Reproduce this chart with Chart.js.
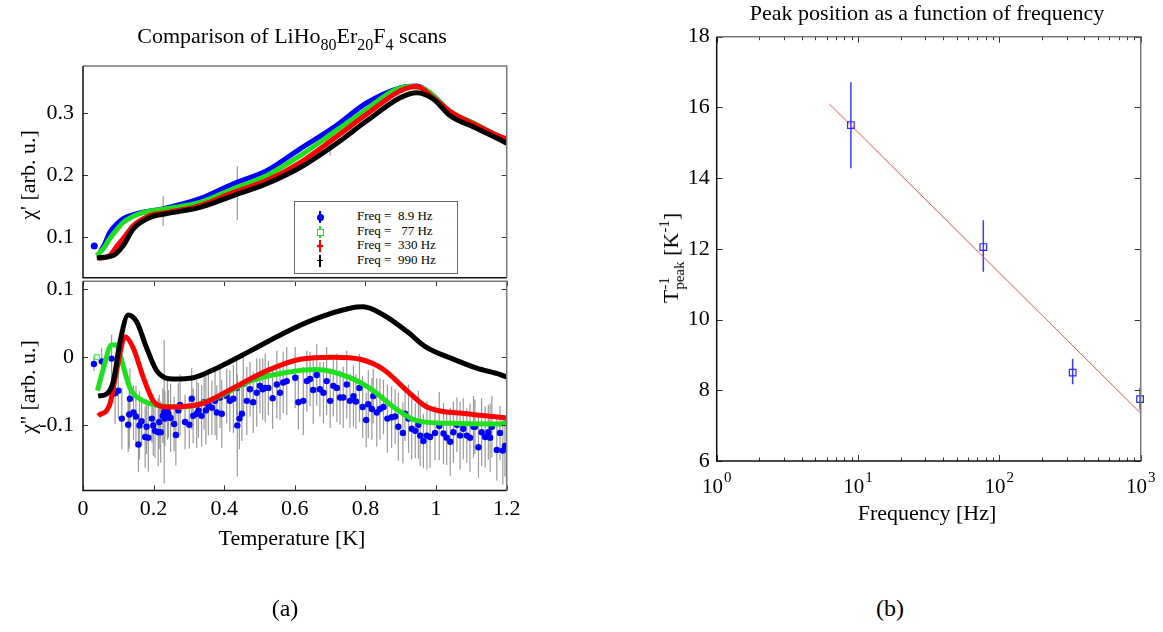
<!DOCTYPE html>
<html lang="en">
<head>
<meta charset="UTF-8" />
<title>LiHo80Er20F4 ac susceptibility</title>
<script src="https://cdn.jsdelivr.net/npm/chart.js@4.4.1/dist/chart.umd.min.js"></script>
<style>
  html, body { margin: 0; padding: 0; background: #fff; }
  body { width: 1163px; height: 632px; position: relative; overflow: hidden;
         font-family: "Liberation Serif", serif; color: #000; }
  canvas { position: absolute; }
  .t { position: absolute; white-space: nowrap; font-size: 22px; line-height: 22px; z-index: 2; }
  .t sub { font-size: 16px; vertical-align: -7px; line-height: 0; }
  .t sup { font-size: 15px; vertical-align: 9px; line-height: 0; }
  .rot { transform: translate(-50%, -50%) rotate(-90deg); }
  .stk { display: inline-block; font-size: 15px; line-height: 15px; vertical-align: -6px; }
  .stk span { display: block; }
  #legend { position: absolute; left: 294px; top: 201px; width: 162px; height: 71px;
            border: 1.5px solid #666; background: #fff; z-index: 2; }
  #legend .row { position: absolute; left: 62px; font-size: 13px; line-height: 14px; white-space: pre; }
  #legend .mk { position: absolute; left: 25px; width: 0; height: 0; }
  #legend .bar { position: absolute; left: -0.6px; top: -6px; width: 1.2px; height: 12px; }
  #legend .dot { position: absolute; left: -3.5px; top: -3.5px; width: 7px; height: 7px; border-radius: 50%; }
  #legend .sq { position: absolute; left: -3px; top: -3px; width: 5px; height: 5px; border: 1px solid #1ee01e; background: #fff; }
  #legend .hz { position: absolute; left: -3px; top: -0.6px; width: 6px; height: 1.2px; }
</style>
</head>
<body>
  <canvas id="chiP" width="560" height="260" style="left:0px; top:40px;"></canvas>
  <canvas id="chiPP" width="560" height="311" style="left:0px; top:259.3px;"></canvas>
  <canvas id="peak" width="523" height="560" style="left:640px; top:0px;"></canvas>

  <div class="t" style="left:292px; top:25px; transform:translateX(-50%);">Comparison of LiHo<sub>80</sub>Er<sub>20</sub>F<sub>4</sub> scans</div>
  <div class="t rot" style="left:28px; top:175px;">χ' [arb. u.]</div>
  <div class="t rot" style="left:28px; top:387px;">χ'' [arb. u.]</div>
  <div class="t" style="left:292px; top:527px; transform:translateX(-50%);">Temperature [K]</div>

  <div class="t" style="left:927px; top:2px; transform:translateX(-50%);">Peak position as a function of frequency</div>
  <div class="t rot" style="left:672px; top:258px;">T<span class="stk"><span>-1</span><span>peak</span></span> [K<sup>-1</sup>]</div>
  <div class="t" style="left:927px; top:502px; transform:translateX(-50%);">Frequency [Hz]</div>

  <div class="t" style="left:285px; top:608px; font-size:24px; transform:translate(-50%,-50%);">(a)</div>
  <div class="t" style="left:890px; top:608px; font-size:24px; transform:translate(-50%,-50%);">(b)</div>

  <div id="legend">
    <div class="mk" style="top:15px;"><div class="bar" style="background:#0000ff"></div><div class="dot" style="background:#0000ff"></div></div>
    <div class="row" style="top:7px;">Freq =  8.9 Hz</div>
    <div class="mk" style="top:29.5px;"><div class="bar" style="background:#1ee01e"></div><div class="sq"></div></div>
    <div class="row" style="top:21.5px;">Freq =   77 Hz</div>
    <div class="mk" style="top:44px;"><div class="bar" style="background:#ff0000"></div><div class="hz" style="background:#ff0000"></div><div class="dot" style="background:#ff0000; width:4px; height:4px; left:-2px; top:-2px;"></div></div>
    <div class="row" style="top:36px;">Freq =  330 Hz</div>
    <div class="mk" style="top:58.5px;"><div class="bar" style="background:#000"></div><div class="hz" style="background:#000"></div></div>
    <div class="row" style="top:50.5px;">Freq =  990 Hz</div>
  </div>

<script>
  // ---- chi' (top panel), temperature [K] vs arb. units ----
  const blueTopT  = [0.048, 0.062, 0.076, 0.095, 0.114, 0.152, 0.228, 0.331, 0.426, 0.52, 0.615, 0.709, 0.804, 0.898, 0.945, 0.992, 1.04, 1.106, 1.18, 1.2];
  const blueTopV  = [0.076, 0.090, 0.108, 0.121, 0.130, 0.138, 0.146, 0.162, 0.186, 0.207, 0.242, 0.276, 0.316, 0.340, 0.343, 0.327, 0.301, 0.283, 0.261, 0.256];
  const greenTopT = [0.039, 0.058, 0.076, 0.095, 0.114, 0.161, 0.237, 0.331, 0.426, 0.52, 0.615, 0.709, 0.804, 0.878, 0.925, 0.97, 1.04, 1.106, 1.18, 1.2];
  const greenTopV = [0.071, 0.082, 0.098, 0.112, 0.124, 0.138, 0.146, 0.156, 0.178, 0.199, 0.231, 0.268, 0.306, 0.335, 0.342, 0.337, 0.302, 0.283, 0.261, 0.256];
  const redTopT   = [0.043, 0.076, 0.095, 0.114, 0.143, 0.19, 0.237, 0.331, 0.426, 0.52, 0.615, 0.709, 0.804, 0.898, 0.945, 0.992, 1.04, 1.106, 1.18, 1.2];
  const redTopV   = [0.066, 0.071, 0.085, 0.098, 0.119, 0.135, 0.140, 0.151, 0.172, 0.191, 0.220, 0.258, 0.298, 0.335, 0.342, 0.324, 0.302, 0.282, 0.262, 0.258];
  const blackTopT = [0.039, 0.086, 0.114, 0.143, 0.19, 0.237, 0.331, 0.426, 0.52, 0.615, 0.709, 0.804, 0.898, 0.945, 0.992, 1.04, 1.106, 1.18, 1.2];
  const blackTopV = [0.067, 0.071, 0.087, 0.114, 0.132, 0.138, 0.148, 0.167, 0.186, 0.212, 0.247, 0.287, 0.324, 0.332, 0.322, 0.295, 0.277, 0.257, 0.251];
  const blueTopFirstT = [0.032];
  const blueTopFirstV = [0.086];
  // a few visible error bars of the 8.9 Hz scan
  const blueTopErrT  = [0.227, 0.437, 0.700];
  const blueTopErrLo = [0.118, 0.128, 0.231];
  const blueTopErrHi = [0.166, 0.214, 0.258];

  // ---- chi'' (bottom panel) ----
  const blackBotT = [0.043, 0.067, 0.086, 0.105, 0.128, 0.152, 0.18, 0.209, 0.256, 0.313, 0.379, 0.473, 0.567, 0.662, 0.756, 0.794, 0.851, 0.917, 0.974, 1.04, 1.115, 1.18, 1.2];
  const blackBotV = [-0.057, -0.054, -0.035, 0.023, 0.062, 0.052, 0.014, -0.020, -0.032, -0.030, -0.016, 0.009, 0.035, 0.057, 0.072, 0.074, 0.062, 0.038, 0.014, -0.001, -0.016, -0.025, -0.029];
  const redBotT   = [0.043, 0.076, 0.095, 0.119, 0.142, 0.171, 0.199, 0.237, 0.331, 0.426, 0.52, 0.615, 0.709, 0.785, 0.851, 0.917, 0.974, 1.087, 1.18, 1.2];
  const redBotV   = [-0.086, -0.069, -0.020, 0.030, 0.014, -0.030, -0.064, -0.073, -0.069, -0.045, -0.020, -0.003, 0.000, -0.003, -0.018, -0.049, -0.073, -0.083, -0.088, -0.089];
  const greenBotT = [0.041, 0.058, 0.081, 0.095, 0.11, 0.133, 0.171, 0.218, 0.284, 0.379, 0.473, 0.567, 0.662, 0.756, 0.822, 0.879, 0.945, 1.04, 1.18, 1.2];
  const greenBotV = [-0.049, -0.016, 0.018, 0.018, -0.006, -0.045, -0.064, -0.071, -0.073, -0.059, -0.035, -0.023, -0.018, -0.030, -0.049, -0.073, -0.093, -0.097, -0.098, -0.096];
  const greenBotFirstT = [0.039];
  const greenBotFirstV = [0.0];

  const blueBotT = [
    0.031, 0.053, 0.081, 0.091, 0.100, 0.110, 0.128, 0.131, 0.133, 0.143,
    0.150, 0.157, 0.160, 0.166, 0.176, 0.180, 0.185, 0.195, 0.199, 0.204,
    0.213, 0.216, 0.220, 0.226, 0.230, 0.232, 0.239, 0.242, 0.248, 0.258,
    0.263, 0.270, 0.275, 0.289, 0.301, 0.308, 0.312, 0.322, 0.327, 0.336,
    0.343, 0.348, 0.355, 0.365, 0.374, 0.379, 0.388, 0.393, 0.407, 0.416,
    0.426, 0.435, 0.437, 0.443, 0.450, 0.454, 0.464, 0.473, 0.482, 0.492,
    0.501, 0.509, 0.516, 0.525, 0.537, 0.549, 0.558, 0.567, 0.577, 0.601,
    0.610, 0.624, 0.634, 0.643, 0.652, 0.662, 0.671, 0.681, 0.690, 0.700,
    0.709, 0.719, 0.728, 0.737, 0.747, 0.756, 0.766, 0.773, 0.783, 0.792,
    0.802, 0.808, 0.818, 0.822, 0.832, 0.841, 0.851, 0.862, 0.874, 0.884,
    0.893, 0.906, 0.912, 0.922, 0.931, 0.941, 0.950, 0.955, 0.964, 0.974,
    0.983, 0.997, 1.009, 1.021, 1.030, 1.040, 1.049, 1.059, 1.068, 1.077,
    1.087, 1.096, 1.106, 1.110, 1.120, 1.129, 1.139, 1.148, 1.153, 1.158,
    1.172, 1.181, 1.189, 1.195
  ];
  const blueBotV = [
    -0.010, -0.006, -0.002, -0.053, -0.049, -0.090, -0.099, -0.084, -0.061, -0.081,
    -0.087, -0.128, -0.100, -0.094, -0.117, -0.102, -0.118, -0.090, -0.100, -0.108,
    -0.110, -0.095, -0.110, -0.086, -0.080, -0.090, -0.076, -0.083, -0.089, -0.098,
    -0.114, -0.078, -0.070, -0.095, -0.099, -0.061, -0.086, -0.083, -0.078, -0.086,
    -0.066, -0.078, -0.070, -0.074, -0.064, -0.081, -0.059, -0.083, -0.057, -0.064,
    -0.061, -0.045, -0.100, -0.090, -0.083, -0.039, -0.064, -0.047, -0.066, -0.052,
    -0.042, -0.047, -0.045, -0.045, -0.060, -0.040, -0.052, -0.037, -0.035, -0.030,
    -0.066, -0.064, -0.035, -0.032, -0.048, -0.026, -0.047, -0.052, -0.035, -0.064,
    -0.042, -0.045, -0.059, -0.059, -0.040, -0.064, -0.057, -0.065, -0.045, -0.073,
    -0.092, -0.069, -0.076, -0.057, -0.081, -0.076, -0.073, -0.090, -0.088, -0.087,
    -0.102, -0.111, -0.083, -0.090, -0.105, -0.108, -0.099, -0.115, -0.123, -0.115,
    -0.117, -0.111, -0.101, -0.112, -0.118, -0.124, -0.110, -0.099, -0.115, -0.105,
    -0.115, -0.118, -0.102, -0.102, -0.132, -0.110, -0.117, -0.110, -0.118, -0.102,
    -0.136, -0.111, -0.137, -0.130
  ];
  const blueBotErr = [
    0.010, 0.020, 0.035, 0.045, 0.040, 0.045, 0.040, 0.050, 0.045, 0.040,
    0.045, 0.040, 0.050, 0.035, 0.045, 0.040, 0.050, 0.035, 0.045, 0.040,
    0.050, 0.040, 0.045, 0.040, 0.105, 0.040, 0.045, 0.035, 0.050, 0.040,
    0.045, 0.040, 0.045, 0.040, 0.035, 0.045, 0.040, 0.050, 0.040, 0.045,
    0.040, 0.050, 0.045, 0.040, 0.050, 0.040, 0.045, 0.050, 0.040, 0.045,
    0.050, 0.040, 0.075, 0.045, 0.040, 0.045, 0.050, 0.040, 0.045, 0.050,
    0.040, 0.045, 0.050, 0.040, 0.045, 0.050, 0.040, 0.045, 0.050, 0.045,
    0.040, 0.050, 0.045, 0.040, 0.050, 0.045, 0.040, 0.045, 0.050, 0.040,
    0.045, 0.050, 0.040, 0.045, 0.050, 0.040, 0.045, 0.040, 0.050, 0.045,
    0.040, 0.050, 0.045, 0.040, 0.050, 0.045, 0.040, 0.050, 0.045, 0.040,
    0.050, 0.045, 0.040, 0.050, 0.045, 0.040, 0.050, 0.045, 0.040, 0.050,
    0.045, 0.040, 0.050, 0.045, 0.040, 0.050, 0.045, 0.040, 0.050, 0.045,
    0.040, 0.050, 0.045, 0.040, 0.045, 0.050, 0.045, 0.040, 0.050, 0.045,
    0.045, 0.040, 0.050, 0.045
  ];

  const tempTicks = [0, 0.2, 0.4, 0.6, 0.8, 1, 1.2];
  const tempTickLabels = ['0', '0.2', '0.4', '0.6', '0.8', '1', '1.2'];
  const chiPTicks = [0.1, 0.2, 0.3];
  const chiPTickLabels = ['0.1', '0.2', '0.3'];
  const chiPPTicks = [-0.1, 0, 0.1];
  const chiPPTickLabels = ['-0.1', '0', '0.1'];

  // ---- peak position vs frequency ----
  const freqs = [8.9, 77, 330, 990];
  const tPeakInv = [15.5, 12.05, 8.5, 7.75];
  const tPeakLo = [14.28, 11.35, 8.17, 7.46];
  const tPeakHi = [16.71, 12.81, 8.89, 8.08];
  const fitFreq = [6.26, 1000];
  const fitT = [16.1, 7.35];
  const freqTicks = [1, 2, 3, 4, 5, 6, 7, 8, 9, 10, 20, 30, 40, 50, 60, 70, 80, 90, 100, 200, 300, 400, 500, 600, 700, 800, 900, 1000];
  const tPeakTicks = [6, 8, 10, 12, 14, 16, 18];
  const tPeakTickLabels = ['6', '8', '10', '12', '14', '16', '18'];

  const SERIF = '"Liberation Serif", "Times New Roman", serif';
  const pts = (xs, ys) => xs.map((x, i) => ({ x: x, y: ys[i] }));

  // error bars, inward ticks, frame and 10^n labels
  const figPlugin = {
    id: 'fig',
    beforeDatasetsDraw(chart) {
      const { ctx, chartArea: a, scales } = chart;
      ctx.save();
      ctx.beginPath();
      ctx.rect(a.left, a.top, a.right - a.left, a.bottom - a.top);
      ctx.clip();
      chart.data.datasets.forEach(ds => {
        const e = ds.errBars;
        if (!e) return;
        ctx.beginPath();
        ctx.strokeStyle = e.color;
        ctx.lineWidth = e.width;
        e.x.forEach((xv, k) => {
          const px = scales.x.getPixelForValue(xv);
          ctx.moveTo(px, scales.y.getPixelForValue(e.lo[k]));
          ctx.lineTo(px, scales.y.getPixelForValue(e.hi[k]));
        });
        ctx.stroke();
      });
      ctx.restore();
    },
    afterDraw(chart, args, o) {
      const { ctx, chartArea: a, scales: { x, y } } = chart;
      const isMajor = v => !o.log || Math.abs(Math.log10(v) - Math.round(Math.log10(v))) < 1e-6;
      ctx.save();
      ctx.strokeStyle = '#333';
      ctx.lineWidth = 1;
      ctx.beginPath();
      (o.xSides || []).forEach(side => {
        x.ticks.forEach(t => {
          const px = Math.round(x.getPixelForValue(t.value)) + 0.5;
          const len = isMajor(t.value) ? o.len : o.minorLen;
          const y0 = side === 'top' ? a.top : a.bottom;
          ctx.moveTo(px, y0);
          ctx.lineTo(px, y0 + (side === 'top' ? len : -len));
        });
      });
      (o.ySides || []).forEach(side => {
        y.ticks.forEach(t => {
          const py = Math.round(y.getPixelForValue(t.value)) + 0.5;
          const x0 = side === 'left' ? a.left : a.right;
          ctx.moveTo(x0, py);
          ctx.lineTo(x0 + (side === 'left' ? o.len : -o.len), py);
        });
      });
      ctx.stroke();

      ctx.lineWidth = 1.5;
      ctx.strokeStyle = '#777';
      ctx.beginPath();
      ctx.moveTo(a.left, a.top); ctx.lineTo(a.right, a.top); ctx.lineTo(a.right, a.bottom);
      ctx.stroke();
      ctx.strokeStyle = '#111';
      ctx.beginPath();
      ctx.moveTo(a.left, a.top); ctx.lineTo(a.left, a.bottom); ctx.lineTo(a.right, a.bottom);
      ctx.stroke();

      if (o.log) {
        ctx.fillStyle = '#000';
        ctx.textAlign = 'left';
        ctx.textBaseline = 'alphabetic';
        x.ticks.forEach(t => {
          if (!isMajor(t.value)) return;
          const ex = String(Math.round(Math.log10(t.value)));
          ctx.font = '21px ' + SERIF;
          const wb = ctx.measureText('10').width;
          ctx.font = '15px ' + SERIF;
          const we = ctx.measureText(ex).width;
          const x0 = x.getPixelForValue(t.value) - (wb + we + 1) / 2;
          ctx.font = '21px ' + SERIF;
          ctx.fillText('10', x0, a.bottom + 32);
          ctx.font = '15px ' + SERIF;
          ctx.fillText(ex, x0 + wb + 1, a.bottom + 21);
        });
      }
      ctx.restore();
    }
  };

  const curve = (xs, ys, color, order) => ({
    data: pts(xs, ys), showLine: true, borderColor: color, backgroundColor: color,
    borderWidth: 5, pointRadius: 0, cubicInterpolationMode: 'monotone', order: order
  });

  // the axis box takes the whole margin so its labels are not clipped
  const axis = (min, max, vals, labels, horizontal, size, pad, extra) => Object.assign({
    min: min, max: max,
    grid: { display: false, drawTicks: false },
    border: { display: false },
    afterBuildTicks: s => { s.ticks = vals.map(v => ({ value: v })); },
    afterFit: s => { if (horizontal) s.height = size; else s.width = size; },
    ticks: {
      display: !!labels, autoSkip: false, maxRotation: 0, minRotation: 0, padding: pad, color: '#000',
      font: { family: SERIF, size: 22 },
      callback: (v, i) => labels ? labels[i] : ''
    }
  }, extra || {});

  const base = (padding, scales, fig) => ({
    responsive: false, animation: false, devicePixelRatio: 1,
    layout: { padding: padding },
    scales: scales,
    plugins: { legend: { display: false }, tooltip: { enabled: false }, fig: fig }
  });

  new Chart(document.getElementById('chiP'), {
    type: 'scatter',
    data: { datasets: [
      curve(blackTopT, blackTopV, '#000000', 0),
      curve(redTopT, redTopV, '#ff0000', 1),
      curve(greenTopT, greenTopV, '#1ee01e', 2),
      Object.assign(curve(blueTopT, blueTopV, '#0000ff', 3), {
        errBars: { x: blueTopErrT, lo: blueTopErrLo, hi: blueTopErrHi, color: '#999', width: 1.2 }
      }),
      { data: pts(blueTopFirstT, blueTopFirstV), pointRadius: 3.5, backgroundColor: '#0000ff', borderWidth: 0, order: 4 }
    ] },
    options: base({ left: 0, top: 26, right: 53.3, bottom: 0 }, {
      x: axis(0, 1.2, tempTicks, null, true, 20.7, 6),
      y: axis(0.035, 0.375, chiPTicks, chiPTickLabels, false, 83, 9)
    }, { ySides: ['left', 'right'], len: 5 }),
    plugins: [figPlugin]
  });

  new Chart(document.getElementById('chiPP'), {
    type: 'scatter',
    data: { datasets: [
      curve(blackBotT, blackBotV, '#000000', 0),
      curve(redBotT, redBotV, '#ff0000', 1),
      curve(greenBotT, greenBotV, '#1ee01e', 2),
      { data: pts(greenBotFirstT, greenBotFirstV), pointStyle: 'rect', pointRadius: 3.5,
        backgroundColor: '#fff', borderColor: '#1ee01e', borderWidth: 1, order: 3 },
      { data: pts(blueBotT, blueBotV), pointRadius: 3.2, backgroundColor: '#0000ff', borderWidth: 0, order: 4,
        errBars: { x: blueBotT, lo: blueBotV.map((v, i) => v - blueBotErr[i]),
                   hi: blueBotV.map((v, i) => v + blueBotErr[i]), color: '#9a9a9a', width: 1.2 } }
    ] },
    options: base({ left: 0, top: 20, right: 53.3, bottom: 0 }, {
      x: axis(0, 1.2, tempTicks, tempTickLabels, true, 79.6, 6),
      y: axis(-0.1954, 0.1116, chiPPTicks, chiPPTickLabels, false, 83, 9)
    }, { xSides: ['top', 'bottom'], ySides: ['left', 'right'], len: 5 }),
    plugins: [figPlugin]
  });

  new Chart(document.getElementById('peak'), {
    type: 'scatter',
    data: { datasets: [
      { data: pts(fitFreq, fitT), showLine: true, borderColor: '#ff4d4d', borderWidth: 1, pointRadius: 0, order: 1 },
      { data: pts(freqs, tPeakInv), pointStyle: 'rect', pointRadius: 4.7, backgroundColor: 'rgba(0,0,0,0)',
        borderColor: '#2a2aff', borderWidth: 1.2, clip: false, order: 0,
        errBars: { x: freqs, lo: tPeakLo, hi: tPeakHi, color: '#3a3aff', width: 1.5 } }
    ] },
    options: base({ left: 0, top: 36.7, right: 22.3, bottom: 0 }, {
      x: axis(1, 1000, freqTicks, null, true, 99, 6, { type: 'logarithmic' }),
      y: axis(6, 18, tPeakTicks, tPeakTickLabels, false, 76.7, 7)
    }, { xSides: ['top', 'bottom'], ySides: ['left', 'right'], len: 6, minorLen: 3.5, log: true }),
    plugins: [figPlugin]
  });
</script>
</body>
</html>
